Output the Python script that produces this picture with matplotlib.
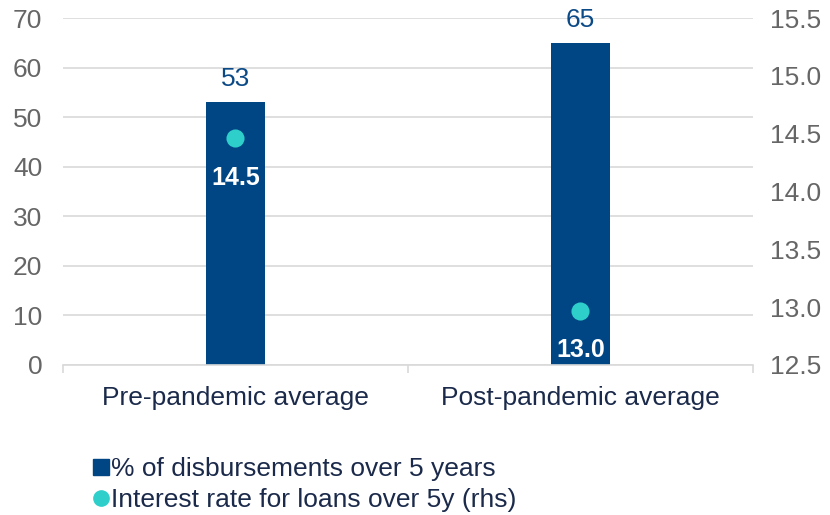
import matplotlib
matplotlib.use("Agg")
import matplotlib.pyplot as plt
from matplotlib.lines import Line2D

plt.rcParams['font.family'] = ['Liberation Sans', 'DejaVu Sans']

categories = ["Pre-pandemic average", "Post-pandemic average"]
disbursement_share = [53, 65]
interest_rate = [14.46, 12.97]
left_ticks = [0, 10, 20, 30, 40, 50, 60, 70]
right_ticks = [12.5, 13.0, 13.5, 14.0, 14.5, 15.0, 15.5]

bar_color = "#004584"
dot_color = "#2ECFCB"
grid_color = "#D9D9D9"
tick_color = "#666666"
text_color = "#1B2A4A"

fig = plt.figure(figsize=(8.3, 5.15), dpi=100)
ax = fig.add_axes([0.0759, 0.2913, 0.8313, 0.6737])
ax2 = ax.twinx()

x = list(range(len(categories)))
ax.bar(x, disbursement_share, width=0.17, color=bar_color, zorder=2)
ax.set_xlim(-0.5, len(categories) - 0.5)
ax.set_ylim(0, 70)
ax.set_yticks(left_ticks)
ax.set_yticklabels([str(t) for t in left_ticks])
ax.grid(axis="y", color=grid_color, linewidth=1.2, zorder=0)
ax.set_axisbelow(True)
for s in ["top", "right", "left"]:
    ax.spines[s].set_visible(False)
ax.spines["bottom"].set_color(grid_color)
ax.spines["bottom"].set_linewidth(1.2)
ax.tick_params(axis="y", length=0, labelsize=19, labelcolor=tick_color, pad=15)
ax.set_xticks([-0.5, 0.5, 1.5], minor=True)
ax.set_xticks(x)
ax.set_xticklabels(categories, fontsize=19, color=text_color)
ax.tick_params(axis="x", which="major", length=0, pad=15)
ax.tick_params(axis="x", which="minor", length=6, color=grid_color, width=1.2)

for xi, v in zip(x, disbursement_share):
    ax.annotate(f"{v:.0f}", (xi, v), xytext=(0, 8), textcoords="offset points",
                ha="center", va="bottom", fontsize=19, color="#0B4A86")

ax2.scatter(x, interest_rate, s=170, color=dot_color, zorder=3, linewidths=0)
ax2.set_ylim(12.5, 15.5)
ax2.set_yticks(right_ticks)
ax2.set_yticklabels([f"{t:.1f}" for t in right_ticks])
for s in ["top", "right", "left", "bottom"]:
    ax2.spines[s].set_visible(False)
ax2.tick_params(axis="y", length=0, labelsize=19, labelcolor=tick_color, pad=12)

for xi, v in zip(x, interest_rate):
    ax2.annotate(f"{v:.1f}", (xi, v), xytext=(0, -20), textcoords="offset points",
                 ha="center", va="top", fontsize=18, fontweight="bold", color="white")

handles = [
    Line2D([], [], marker="s", linestyle="none", markersize=11,
           markerfacecolor=bar_color, markeredgecolor=bar_color),
    Line2D([], [], marker="o", linestyle="none", markersize=11,
           markerfacecolor=dot_color, markeredgecolor=dot_color),
]
labels = ["% of disbursements over 5 years", "Interest rate for loans over 5y (rhs)"]
fig.legend(handles, labels, loc="upper left", bbox_to_anchor=(0.110, 0.112),
           bbox_transform=fig.transFigure, frameon=False, fontsize=19,
           labelcolor=text_color, handletextpad=0.05, handlelength=0.7,
           labelspacing=0.25, borderaxespad=0, borderpad=0)

fig.savefig("out.png", dpi=100)
